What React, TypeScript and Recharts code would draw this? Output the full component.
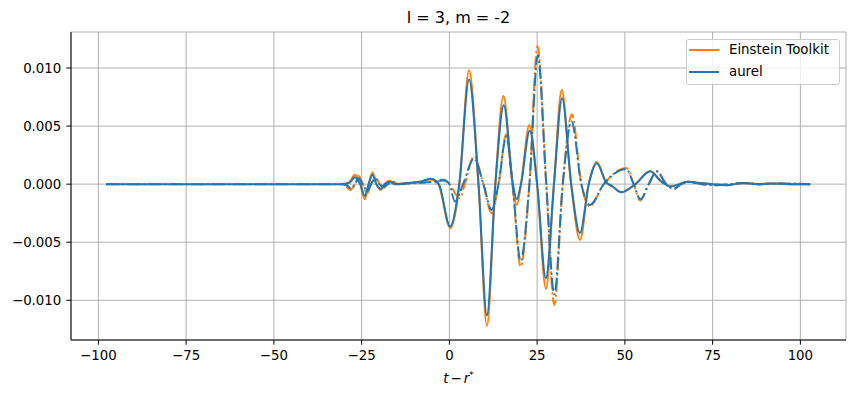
import React from 'react';
import { LineChart, Line, XAxis, YAxis, CartesianGrid, Legend } from 'recharts';

const FONT = '"DejaVu Sans", sans-serif';
const ORANGE = '#ff7f0e';
const BLUE = '#1f77b4';

const xTicks = [-100, -75, -50, -25, 0, 25, 50, 75, 100];
const yTicks = [-0.01, -0.005, 0, 0.005, 0.01];

// [t - r*, value]
const etReal: [number, number][] = [
  [-29.6, 0], [-28.4, 0.0002], [-26.9, 0.0008], [-25.4, 0], [-24.1, -0.0013], [-23.0, 0],
  [-21.9, 0.001], [-20.8, 0], [-19.6, -0.0005], [-18.4, 0], [-17.1, 0.0003], [-15.5, 0],
  [-12, 0.0001], [-8.5, 0.0002], [-5.5, 0.0004], [-3.2, 0], [0.3, -0.0038], [2.9, 0],
  [5.6, 0.0098], [8.3, 0], [10.7, -0.0122], [13.1, 0], [15.4, 0.0076], [18.0, 0],
  [19.2, -0.0018], [20.4, 0], [22.8, 0.0051], [25.0, 0], [27.5, -0.009], [29.8, 0],
  [32.0, 0.0081], [34.7, 0], [37.2, -0.0048], [39.7, 0], [42.0, 0.0019], [44.6, 0.0002],
  [46.5, -0.0002], [49.0, -0.0007], [53.0, 0], [57.2, 0.0011], [60.5, 0.0002], [63.0, -0.0002],
  [65.5, 0], [68.0, 0.0002], [71, 0.0001], [75, 0], [79, -0.0001], [83.5, 0.0001],
  [88, 0], [92, 0.00005], [97, 0], [102.8, 0],
];

const etImag: [number, number][] = [
  [-29.4, -0.0002], [-28.2, -0.0005], [-26.9, 0], [-25.8, 0.0007], [-24.7, 0], [-23.4, -0.0008],
  [-22.3, 0], [-21.0, 0.0006], [-19.9, 0], [-18.6, -0.0003], [-17.5, 0], [-16.2, 0.0002],
  [-14.5, 0], [-10, 0.0001], [-4.5, 0.0002], [-1.9, 0.0003], [0, 0], [2.9, -0.0012],
  [4.4, 0], [7.0, 0.0024], [9.7, 0], [12.0, -0.0025], [14.0, 0], [16.2, 0.0043],
  [18.0, 0], [20.3, -0.0071], [22.8, 0], [25.1, 0.0119], [27.6, 0], [29.9, -0.0104],
  [32.3, 0], [34.9, 0.006], [37.6, 0], [40.0, -0.0019], [44.0, 0], [50.4, 0.0014],
  [52.5, 0], [54.4, -0.0014], [56.8, 0], [59.1, 0.0011], [61.8, 0], [64.0, -0.0004],
  [66, 0], [68, 0.0002], [72, 0], [76, -0.0001], [80, 0], [84, 0.0001],
  [88, 0], [94, 0.00005], [102.8, 0],
];

const aurelReal: [number, number][] = [
  [-97.8, 0], [-70, 0], [-45, 0], [-31, 0], [-28.6, 0.0001], [-26.9, 0.0006],
  [-25.4, 0], [-24.1, -0.001], [-23.0, 0], [-21.9, 0.0008], [-20.8, 0], [-19.6, -0.0004],
  [-18.4, 0], [-17.1, 0.0002], [-15.5, 0], [-12, 0.0001], [-8.5, 0.0002], [-5.3, 0.00046],
  [-3.0, 0], [0.2, -0.00365], [2.8, 0], [5.6, 0.009], [8.3, 0], [10.7, -0.0113],
  [13.1, 0], [15.5, 0.0068], [18.1, 0], [19.2, -0.0013], [20.4, 0], [22.9, 0.0046],
  [25.0, 0], [27.5, -0.0081], [29.8, 0], [32.1, 0.0074], [34.7, 0], [37.2, -0.0042],
  [39.7, 0], [42.0, 0.0018], [44.6, 0.0002], [46.5, -0.0002], [49.0, -0.0007], [53.0, 0],
  [57.2, 0.0011], [60.5, 0.0002], [63.0, -0.0002], [65.5, 0], [68.0, 0.0002], [71, 0.0001],
  [75, 0], [79, -0.0001], [83.5, 0.0001], [88, 0], [92, 0.00005], [97, 0], [102.8, 0],
];

const aurelImag: [number, number][] = [
  [-97.8, 0], [-70, 0], [-45, 0], [-31, 0], [-29.2, -0.0001], [-28.0, -0.0004],
  [-26.9, 0], [-25.8, 0.0005], [-24.7, 0], [-23.4, -0.0006], [-22.3, 0], [-21.0, 0.0005],
  [-19.9, 0], [-18.6, -0.0002], [-17.5, 0], [-16.2, 0.0002], [-14.5, 0], [-10, 0.0001],
  [-4.5, 0.0002], [-1.7, 0.00037], [0, 0], [1.6, -0.0015], [3.9, 0], [7.0, 0.0022],
  [9.7, 0], [12.0, -0.0022], [14.0, 0], [16.2, 0.0041], [18.0, 0], [20.3, -0.0066],
  [22.8, 0], [25.2, 0.0111], [27.6, 0], [29.9, -0.0095], [32.3, 0], [34.8, 0.0054],
  [37.6, 0], [40.0, -0.0018], [44.0, 0], [50.4, 0.0013], [52.5, 0], [54.4, -0.0013],
  [56.8, 0], [59.1, 0.0011], [61.8, 0], [64.0, -0.0004], [66, 0], [68, 0.0002],
  [72, 0], [76, -0.0001], [80, 0], [84, 0.0001], [88, 0], [94, 0.00005], [102.8, 0],
];

const legendItems = [
  { name: 'Einstein Toolkit', color: ORANGE },
  { name: 'aurel', color: BLUE },
];

const X_DOMAIN: [number, number] = [-107.8, 113];
const Y_DOMAIN: [number, number] = [-0.01342, 0.0131];
const DASH_DOT = '12.8 3.2 2 3.2';

const toRows = (pts: [number, number][], key: string) =>
  pts.map(([t, v]) => ({ t, [key]: v }));

const minus = (s: string) => s.replace('-', '\u2212');
const fmtX = (v: number) => minus(String(v));
const fmtY = (v: number) => minus(v.toFixed(3));

const tickStyle = { fill: '#000', fontSize: 13.33, fontFamily: FONT };

const LegendBox = () => (
  <div
    style={{
      position: 'relative',
      boxSizing: 'border-box',
      width: 154,
      height: 46,
      border: '1px solid #cccccc',
      borderRadius: 3,
      background: 'rgba(255,255,255,0.8)',
      fontFamily: FONT,
      fontSize: 13.33,
      color: '#000',
    }}
  >
    {legendItems.map((item, i) => (
      <div key={item.name}>
        <div
          style={{
            position: 'absolute',
            left: 2,
            top: 9.3 + i * 21.4,
            width: 30,
            height: 2,
            background: item.color,
          }}
        />
        <div
          style={{
            position: 'absolute',
            left: 42,
            top: 2.3 + i * 21.4,
            lineHeight: '16px',
            whiteSpace: 'nowrap',
          }}
        >
          {item.name}
        </div>
      </div>
    ))}
  </div>
);

const App = () => {
  return (
    <div
      style={{
        position: 'absolute',
        left: 0,
        top: 0,
        width: 855,
        height: 398,
        background: '#fff',
        fontFamily: FONT,
      }}
    >
      <div
        style={{
          position: 'absolute',
          left: 71,
          width: 775,
          top: 10.4,
          textAlign: 'center',
          fontSize: 16,
          lineHeight: '16px',
          color: '#000',
        }}
      >
        l = 3, m = -2
      </div>
      <div
        style={{
          position: 'absolute',
          left: 71,
          width: 775,
          top: 370.7,
          textAlign: 'center',
          fontSize: 13.33,
          lineHeight: '16px',
          color: '#000',
        }}
      >
        <span style={{ fontStyle: 'italic' }}>t</span>
        <span style={{ margin: '0 2px' }}>{'\u2212'}</span>
        <span style={{ fontStyle: 'italic' }}>r</span>
        <span style={{ fontSize: 9.3, position: 'relative', top: -5 }}>*</span>
      </div>
      <LineChart width={855} height={398} margin={{ top: 32, right: 9, bottom: 0, left: 0 }}>
        <CartesianGrid stroke="#b0b0b0" strokeWidth={1} />
        <XAxis
          dataKey="t"
          type="number"
          domain={X_DOMAIN}
          ticks={xTicks}
          interval={0}
          allowDataOverflow
          tickFormatter={fmtX}
          tickSize={4.7}
          tickMargin={6}
          height={58}
          tick={tickStyle}
          axisLine={{ stroke: '#000' }}
          tickLine={{ stroke: '#000' }}
        />
        <YAxis
          type="number"
          domain={Y_DOMAIN}
          ticks={yTicks}
          interval={0}
          allowDataOverflow
          tickFormatter={fmtY}
          tickSize={4.7}
          tickMargin={5}
          width={71}
          tick={tickStyle}
          axisLine={{ stroke: '#000' }}
          tickLine={{ stroke: '#000' }}
        />
        <XAxis
          xAxisId="top"
          orientation="top"
          type="number"
          domain={X_DOMAIN}
          height={0}
          tick={false}
          tickLine={false}
          axisLine={{ stroke: '#000' }}
        />
        <YAxis
          yAxisId="right"
          orientation="right"
          type="number"
          domain={Y_DOMAIN}
          width={0}
          tick={false}
          tickLine={false}
          axisLine={{ stroke: '#000' }}
        />
        <Line
          data={toRows(etReal, 'etRe')}
          dataKey="etRe"
          type="monotone"
          stroke={ORANGE}
          strokeWidth={2}
          dot={false}
          activeDot={false}
          isAnimationActive={false}
        />
        <Line
          data={toRows(etImag, 'etIm')}
          dataKey="etIm"
          type="monotone"
          stroke={ORANGE}
          strokeWidth={2}
          strokeDasharray={DASH_DOT}
          dot={false}
          activeDot={false}
          isAnimationActive={false}
        />
        <Line
          data={toRows(aurelReal, 'auRe')}
          dataKey="auRe"
          type="monotone"
          stroke={BLUE}
          strokeWidth={2}
          dot={false}
          activeDot={false}
          isAnimationActive={false}
        />
        <Line
          data={toRows(aurelImag, 'auIm')}
          dataKey="auIm"
          type="monotone"
          stroke={BLUE}
          strokeWidth={2}
          strokeDasharray={DASH_DOT}
          dot={false}
          activeDot={false}
          isAnimationActive={false}
        />
        <Legend
          layout="vertical"
          align="center"
          verticalAlign="middle"
          wrapperStyle={{ left: 686, top: 39, width: 154, height: 46 }}
          content={() => <LegendBox />}
        />
      </LineChart>
    </div>
  );
};

export default App;
